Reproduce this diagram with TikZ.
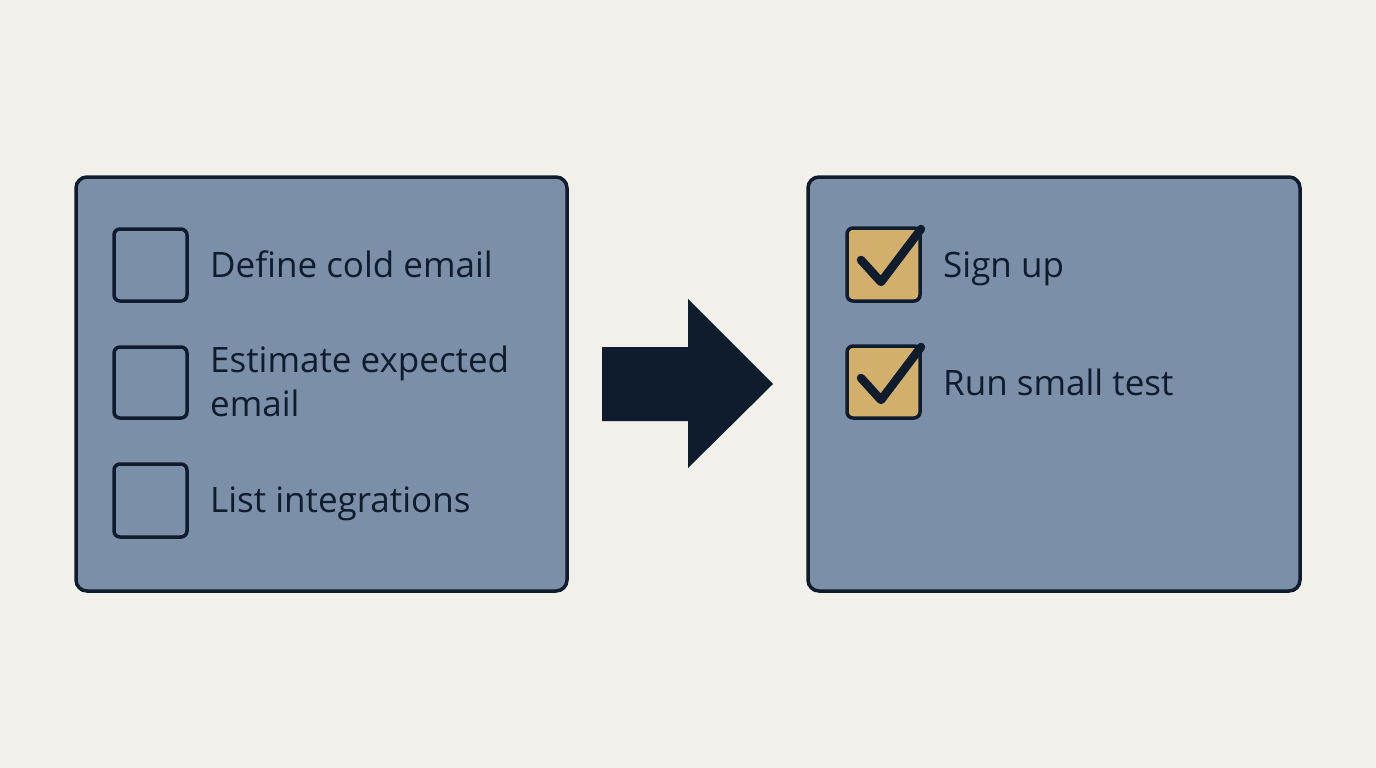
\documentclass[tikz,border=0pt]{standalone}
\usepackage{fontspec}
\setmainfont{Open Sans}
\definecolor{bg}{HTML}{F2F0EB}
\definecolor{panel}{HTML}{7B90A8}
\definecolor{ink}{HTML}{0E1C2E}
\definecolor{gold}{HTML}{D2B06C}
\begin{document}
\begin{tikzpicture}[x=1pt,y=-1pt,
  panelbox/.style={draw=ink,line width=3.5pt,fill=panel,rounded corners=11pt},
  cbox/.style={draw=ink,line width=3.5pt,rounded corners=6pt},
  label/.style={anchor=base west,inner sep=0pt,text=ink,font=\fontsize{35}{44}\selectfont,align=left},
  tick/.style={draw=ink,line width=8.5pt,line cap=round,line join=round}]
\fill[bg] (0,0) rectangle (1376,768);
\useasboundingbox (0,0) rectangle (1376,768);
% panels
\draw[panelbox] (76,177) rectangle (567,591);
\draw[panelbox] (808,177) rectangle (1300,591);
% arrow
\fill[ink] (602,347) -- (688,347) -- (688,299) -- (773,384) -- (688,468) -- (688,421) -- (602,421) -- cycle;
% left boxes
\draw[cbox] (114,229) rectangle (187,301);
\draw[cbox] (114,347) rectangle (187,418);
\draw[cbox] (114,464) rectangle (187,537);
\node[label] (t1) at (210,277) {Define cold email};
\node[label] (t2) at (210,416) {Estimate expected\\email};
\node[label] (t3) at (210,512) {List integrations};
% right boxes
\draw[cbox,fill=gold] (847,228) rectangle (920,301);
\draw[cbox,fill=gold] (847,346) rectangle (920,418);
\draw[tick] (861,260) -- (881,282) -- (921,229);
\draw[tick] (861,378) -- (881,400) -- (921,347);
\node[label] (t4) at (943,277) {Sign up};
\node[label] (t5) at (943,395) {Run small test};
\end{tikzpicture}
\end{document}
